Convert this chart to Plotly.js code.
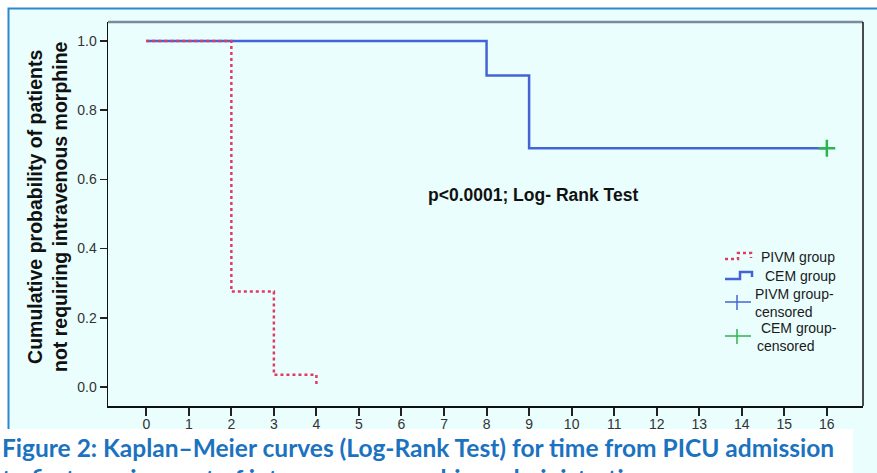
<!DOCTYPE html>
<html>
<head>
<meta charset="utf-8">
<script src="https://cdn.plot.ly/plotly-3.0.1.min.js"></script>
<style>html,body{margin:0;padding:0;background:#fff;}#chart{width:877px;height:473px;}</style>
</head>
<body>
<div id="chart"></div>
<script>
// ---- data ----
var pivmTime = [0, 2, 3, 4];
var pivmSurv = [1.0, 0.276, 0.035, 0.0];
var cemTime = [0, 8, 9, 16];
var cemSurv = [1.0, 0.9, 0.69, 0.69];
var cemCensoredTime = [16];
var cemCensoredSurv = [0.69];
var xTicks = [0,1,2,3,4,5,6,7,8,9,10,11,12,13,14,15,16];
var yTicks = [0.0, 0.2, 0.4, 0.6, 0.8, 1.0];
var legendLabels = ["PIVM group", "CEM group", "PIVM group-<br>censored", "CEM group-<br>censored"];
var annotationText = "p<0.0001; Log- Rank Test";
var yTitle = "Cumulative probability of patients<br>not requiring intravenous morphine";
var captionLine1 = "Figure 2: Kaplan\u2013Meier curves (Log-Rank Test) for time from PICU admission";
var captionLine2 = "to first requirement of intravenous morphine administration";

// ---- layout helpers (pixel -> paper) ----
var W = 877, H = 473, L = 108, R = 14, T = 22, B = 67;
var PW = W - L - R, PH = H - T - B;
function px(x){ return (x - L) / PW; }
function py(y){ return (H - B - y) / PH; }
function path(pts){ return pts.map(function(p,i){ return (i?'L':'M') + px(p[0]) + ',' + py(p[1]); }).join(' '); }

var PINK = '#e23b62', BLUE = '#4464d6', GREEN = '#2cb54f', BG = '#eafefe', CAPBLUE = '#1b72bf';

var traces = [
  {x: cemTime, y: cemSurv, type: 'scatter', mode: 'lines', line: {shape: 'hv', color: BLUE, width: 2.5}, name: 'CEM group', hoverinfo: 'skip'},
  {x: pivmTime, y: pivmSurv, type: 'scatter', mode: 'lines', line: {shape: 'hv', color: PINK, width: 2.5, dash: 'dot'}, name: 'PIVM group', hoverinfo: 'skip'},
  {x: cemCensoredTime, y: cemCensoredSurv, type: 'scatter', mode: 'markers', marker: {symbol: 'cross-thin', size: 12, line: {color: GREEN, width: 2.5}}, name: 'CEM group-censored', hoverinfo: 'skip'}
];

var shapes = [
  // outer frame
  {type: 'rect', xref: 'paper', yref: 'paper', x0: px(8.5), x1: px(880), y0: py(8.5), y1: py(480), fillcolor: BG, line: {color: '#2f86cf', width: 2}, layer: 'below'},
  // plot top border (gray) and right border
  {type: 'line', xref: 'paper', yref: 'paper', x0: 0, x1: 1, y0: 1, y1: 1, line: {color: '#7c8b99', width: 2.5}},
  {type: 'line', xref: 'paper', yref: 'paper', x0: 1, x1: 1, y0: 0, y1: 1, line: {color: '#111', width: 1.5}},
  // caption band
  {type: 'rect', xref: 'paper', yref: 'paper', x0: px(-2), x1: px(853), y0: py(429), y1: py(480), fillcolor: '#ffffff', line: {width: 0}, layer: 'above'},
  // legend glyphs
  {type: 'path', xref: 'paper', yref: 'paper', path: path([[725,259],[738,259],[738,253],[751,253],[751,258]]), line: {color: PINK, width: 2.5, dash: 'dot'}},
  {type: 'path', xref: 'paper', yref: 'paper', path: path([[725,279],[740,279],[740,272],[752,272],[752,277]]), line: {color: BLUE, width: 2.5}},
  {type: 'line', xref: 'paper', yref: 'paper', x0: px(725), x1: px(751), y0: py(302), y1: py(302), line: {color: BLUE, width: 1.5}},
  {type: 'line', xref: 'paper', yref: 'paper', x0: px(737), x1: px(737), y0: py(295), y1: py(310), line: {color: BLUE, width: 1.5}},
  {type: 'line', xref: 'paper', yref: 'paper', x0: px(725), x1: px(751), y0: py(336), y1: py(336), line: {color: GREEN, width: 1.5}},
  {type: 'line', xref: 'paper', yref: 'paper', x0: px(737), x1: px(737), y0: py(329), y1: py(344), line: {color: GREEN, width: 1.5}}
];

var legFont = {family: 'Liberation Sans, Arial, sans-serif', size: 14, color: '#1a1a1a'};
var annotations = [
  {xref: 'paper', yref: 'paper', x: px(759), y: py(257), xanchor: 'left', yanchor: 'middle', text: legendLabels[0], showarrow: false, font: legFont},
  {xref: 'paper', yref: 'paper', x: px(763), y: py(276), xanchor: 'left', yanchor: 'middle', text: legendLabels[1], showarrow: false, font: legFont},
  {xref: 'paper', yref: 'paper', x: px(753), y: py(303), xanchor: 'left', yanchor: 'middle', align: 'left', text: legendLabels[2], showarrow: false, font: legFont},
  {xref: 'paper', yref: 'paper', x: px(755), y: py(337), xanchor: 'left', yanchor: 'middle', align: 'left', text: ' ' + legendLabels[3], showarrow: false, font: legFont},
  {xref: 'paper', yref: 'paper', x: px(533), y: py(195), xanchor: 'center', yanchor: 'middle', text: '<b>' + annotationText + '</b>', showarrow: false, font: {family: 'Liberation Sans, Arial, sans-serif', size: 17.5, color: '#111'}},
  {xref: 'paper', yref: 'paper', x: px(47), y: py(207), xanchor: 'center', yanchor: 'middle', textangle: -90, text: '<b>' + yTitle + '</b>', showarrow: false, font: {family: 'Liberation Sans, Arial, sans-serif', size: 19.5, color: '#111'}},
  {xref: 'paper', yref: 'paper', x: px(0), y: py(447), xanchor: 'left', yanchor: 'middle', text: '<b>' + captionLine1 + '</b>', showarrow: false, font: {family: 'Lato, sans-serif', size: 24.5, color: CAPBLUE}},
  {xref: 'paper', yref: 'paper', x: px(0), y: py(478), xanchor: 'left', yanchor: 'middle', text: '<b>' + captionLine2 + '</b>', showarrow: false, font: {family: 'Lato, sans-serif', size: 24.5, color: CAPBLUE}}
];

var layout = {
  width: W, height: H,
  margin: {l: L, r: R, t: T, b: B, pad: 0},
  paper_bgcolor: '#ffffff',
  plot_bgcolor: BG,
  showlegend: false,
  xaxis: {range: [-0.9, 16.85], tickvals: xTicks, ticktext: xTicks.map(String), ticks: 'outside', ticklen: 8, tickwidth: 2, tickcolor: '#222',
          ticklabelstandoff: -3,
          showline: true, linecolor: '#111', linewidth: 1.5, showgrid: false, zeroline: false,
          tickfont: {family: 'Liberation Sans, Arial, sans-serif', size: 14, color: '#333'}, fixedrange: true},
  yaxis: {range: [-0.055, 1.055], tickvals: yTicks, ticktext: yTicks.map(function(v){return v.toFixed(1);}), ticks: 'outside', ticklen: 7, tickwidth: 1.5, tickcolor: '#222',
          showline: true, linecolor: '#111', linewidth: 1.5, showgrid: false, zeroline: false,
          tickfont: {family: 'Liberation Sans, Arial, sans-serif', size: 14, color: '#333'}, fixedrange: true},
  shapes: shapes,
  annotations: annotations
};

Plotly.newPlot('chart', traces, layout, {displayModeBar: false, staticPlot: true});
</script>
</body>
</html>
